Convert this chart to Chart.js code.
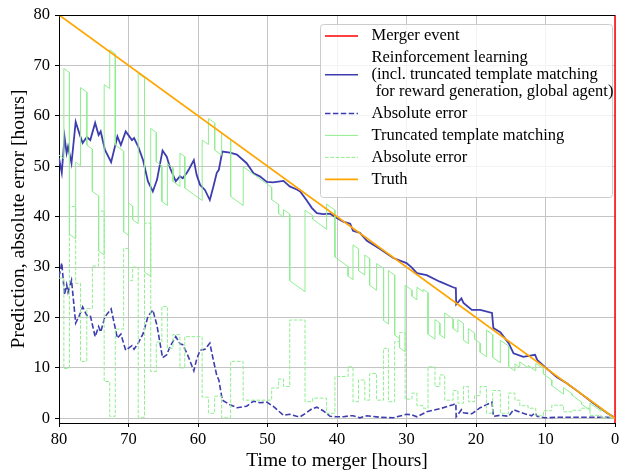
<!DOCTYPE html>
<html>
<head>
<meta charset="utf-8">
<script src="https://cdn.jsdelivr.net/npm/chart.js@4.4.1/dist/chart.umd.min.js"></script>
<style>
    html, body { margin: 0; padding: 0; background: #fff; }
</style>
</head>
<body>
<canvas id="mergerChart" width="619" height="473"></canvas>
<script>
// osy
const xTicks = [0, 10, 20, 30, 40, 50, 60, 70, 80];
const yTicks = [0, 10, 20, 30, 40, 50, 60, 70, 80];

// pravda a okamzik srazky
const truthTime = [80, 0];
const truthValue = [80, 0];
const mergerTime = 0;

// reinforcement learning - predikce a absolutni chyba
const rlTime = [80.0, 79.6, 79.2, 78.9, 78.7, 78.2, 77.6, 77.0, 76.6, 76.0,
    75.5, 74.8, 74.3, 74.0, 73.4, 72.5, 71.6, 71.1, 70.4, 69.5,
    69.2, 68.6, 67.9, 67.2, 66.5, 65.9, 65.1, 64.5, 64.0, 63.2,
    62.6, 62.2, 61.6, 61.3, 60.6, 60.2, 59.7, 59.0, 58.3, 57.8,
    57.3, 57.0, 56.5, 55.4, 54.4, 53.0, 52.0, 51.1, 50.1, 49.2,
    47.7, 46.8, 45.8, 45.3, 44.4, 43.6, 42.9, 42.0, 41.0, 40.1,
    39.1, 38.1, 37.7, 36.7, 35.7, 33.8, 31.9, 30.0, 29.3, 28.5,
    27.1, 25.2, 23.3, 22.9, 22.85, 22.1, 21.8, 20.6, 19.4, 17.7,
    17.5, 16.5, 15.3, 14.6, 13.2, 12.0, 11.5, 11.2, 10.1, 8.4,
    7.0, 5.0, 3.1, 1.2, 0.25];
const rlPred = [51.6, 48.7, 55.8, 52.6, 53.9, 50.6, 58.8, 56.2, 54.6, 55.8,
    55.2, 58.6, 56.2, 56.9, 53.3, 50.8, 55.9, 54.2, 56.9, 55.2,
    55.6, 53.9, 51.2, 47.0, 45.0, 47.3, 53.1, 51.9, 49.6, 47.0,
    48.0, 47.6, 48.7, 49.4, 51.2, 48.3, 46.3, 45.3, 43.3, 45.9,
    48.7, 49.3, 52.9, 52.7, 52.3, 50.6, 48.6, 48.0, 46.9, 46.8,
    47.1, 46.0, 45.4, 45.0, 43.3, 41.7, 40.7, 40.5, 40.6, 39.8,
    39.0, 38.6, 37.2, 36.8, 35.2, 33.6, 31.8, 30.8, 30.0, 28.8,
    28.4, 27.1, 26.0, 25.8, 22.6, 23.8, 22.9, 21.5, 21.5, 20.9,
    17.9, 17.1, 14.9, 12.9, 12.2, 12.5, 12.6, 11.6, 10.2, 8.2,
    7.0, 5.0, 3.0, 1.1, 0.3];
const rlError = [28.1, 30.8, 24.5, 26.5, 25.0, 27.4, 18.9, 20.6, 22.1, 20.4,
    20.4, 16.2, 18.2, 17.1, 20.1, 21.7, 15.9, 16.7, 13.5, 14.4,
    13.7, 14.9, 16.8, 20.2, 21.5, 18.4, 12.0, 12.6, 14.3, 16.2,
    14.8, 14.6, 12.9, 11.9, 9.4, 11.7, 13.5, 13.7, 14.9, 11.6,
    8.5, 7.6, 3.6, 2.7, 2.1, 2.4, 3.4, 3.1, 3.2, 2.4,
    0.6, 0.8, 0.4, 0.3, 1.1, 1.9, 2.2, 1.5, 0.4, 0.3,
    0.3, 0.5, 0.5, 0.1, 0.5, 0.2, 0.1, 0.8, 0.7, 0.3,
    1.3, 1.9, 2.7, 2.9, 0.3, 1.7, 1.1, 0.9, 2.1, 3.2,
    0.4, 0.6, 0.4, 1.7, 1.0, 0.5, 1.1, 0.4, 0.1, 0.2,
    0.2, 0.2, 0.2, 0.2, 0.1];

// truncated template matching - useky (zacatek, hodnota na zacatku, hodnota na konci, chyba)
const ttmStart = [80.0, 79.3, 78.5, 77.6, 76.9, 76.0, 75.2, 74.3, 73.5, 72.7,
    71.9, 70.7, 70.0, 69.4, 68.6, 67.7, 66.8, 66.0, 65.2, 64.4,
    63.6, 62.6, 61.9, 59.4, 58.5, 57.6, 56.6, 55.3, 53.5, 49.4,
    48.4, 47.7, 46.8, 44.6, 43.5, 41.5, 40.3, 38.4, 37.7, 36.9,
    36.0, 35.3, 34.3, 33.3, 32.6, 31.7, 31.0, 30.2, 29.2, 28.5,
    27.6, 26.9, 25.9, 25.2, 24.5, 23.3, 22.6, 21.8, 21.1, 20.2,
    19.4, 18.5, 17.6, 16.5, 15.3, 14.4, 13.7, 12.5, 11.4, 10.3,
    9.1, 7.4, 6.2, 4.8, 3.6, 2.0];
const ttmLastTime = 0.2;
const ttmStartVal = [52.2, 69.4, 36.5, 50.8, 65.6, 54.2, 45.0, 33.2, 66.2, 73.1,
    54.2, 37.0, 42.7, 39.4, 68.4, 29.0, 57.5, 50.9, 43.0, 50.5,
    47.0, 52.6, 45.7, 55.2, 59.5, 53.2, 56.6, 44.0, 49.9, 43.4,
    40.6, 41.4, 27.3, 41.3, 39.5, 42.5, 32.0, 28.2, 34.4, 29.3,
    32.4, 26.4, 30.7, 19.4, 29.3, 16.5, 14.0, 26.4, 24.2, 26.0,
    25.6, 16.7, 19.6, 16.6, 20.9, 17.8, 19.6, 15.5, 17.8, 15.7,
    13.1, 17.5, 12.1, 15.5, 10.3, 10.8, 11.2, 10.5, 10.9, 8.8,
    6.5, 6.1, 4.6, 2.8, 3.0, 1.9];
const ttmEndVal = [51.5, 68.6, 35.6, 50.1, 64.7, 53.4, 44.1, 32.4, 65.4, 72.3,
    53.0, 36.3, 42.1, 38.6, 67.5, 28.1, 56.7, 50.1, 42.2, 49.7,
    46.0, 51.9, 43.2, 54.3, 58.6, 52.2, 55.3, 42.2, 45.8, 42.4,
    39.9, 40.5, 25.1, 40.2, 37.5, 41.3, 30.1, 27.5, 33.6, 28.4,
    31.7, 25.4, 29.7, 18.7, 28.4, 15.8, 13.2, 25.4, 23.5, 25.1,
    24.9, 15.7, 18.9, 15.9, 19.7, 17.1, 18.8, 14.8, 16.9, 14.9,
    12.2, 16.6, 11.0, 14.3, 9.4, 10.1, 10.0, 9.4, 9.8, 7.6,
    4.8, 4.9, 3.2, 1.6, 1.4, 0.1];
const ttmError = [27.8, 9.9, 42.0, 26.8, 11.3, 21.8, 30.2, 41.1, 7.3, 0.4,
    17.7, 33.7, 27.3, 30.0, 0.2, 38.7, 9.3, 15.1, 22.2, 13.9,
    16.6, 10.0, 16.2, 4.2, 1.0, 4.4, 0.1, 11.3, 3.6, 6.0,
    7.8, 6.3, 19.5, 3.3, 4.0, 1.0, 8.3, 10.2, 3.3, 7.6,
    3.6, 8.9, 3.6, 13.9, 3.3, 15.2, 17.0, 3.8, 5.0, 2.5,
    2.0, 10.2, 6.3, 8.6, 3.6, 5.5, 3.0, 6.3, 3.3, 4.5,
    6.3, 1.0, 5.5, 1.0, 5.0, 3.6, 2.5, 2.0, 0.5, 1.5,
    2.6, 1.3, 1.6, 2.0, 0.6, 0.1];

const yMin = -0.93;
const yMax = 80;

const blue = '#3d3db0';
const green = '#90ee90';
const orange = '#ffa500';
const red = '#ff0000';
const serif = '"Liberation Serif", "Times New Roman", serif';
const tickFont = { family: serif, size: 16.5 };
const titleFont = { family: serif, size: 19.5 };

// body pro Chart.js
const rlPredPoints = rlTime.map((t, i) => ({ x: t, y: rlPred[i] }));
const rlErrorPoints = rlTime.map((t, i) => ({ x: t, y: rlError[i] }));
const ttmPredPoints = [];
ttmStart.forEach((t, i) => {
    const next = i + 1 < ttmStart.length ? ttmStart[i + 1] : ttmLastTime;
    ttmPredPoints.push({ x: t, y: ttmStartVal[i] });
    ttmPredPoints.push({ x: next, y: ttmEndVal[i] });
});
const ttmErrorPoints = ttmStart.map((t, i) => ({ x: t, y: ttmError[i] }));
ttmErrorPoints.push({ x: ttmLastTime, y: ttmError[ttmError.length - 1] });
const truthPoints = truthTime.map((t, i) => ({ x: t, y: truthValue[i] }));
const mergerPoints = [{ x: mergerTime, y: yMin }, { x: mergerTime, y: yMax }];

// legenda v ramecku (viceradkovy popisek)
const legendEntries = [
    { lines: ['Merger event'], color: red, width: 1.5, dash: [] },
    { lines: ['Reinforcement learning', '(incl. truncated template matching', ' for reward generation, global agent)'], color: blue, width: 1.5, dash: [] },
    { lines: ['Absolute error'], color: blue, width: 1.5, dash: [5.5, 2.4] },
    { lines: ['Truncated template matching'], color: green, width: 1, dash: [] },
    { lines: ['Absolute error'], color: green, width: 1, dash: [3.7, 1.6] },
    { lines: ['Truth'], color: orange, width: 1.8, dash: [] }
];

const boxLegend = {
    id: 'boxLegend',
    afterDraw(chart) {
        const ctx = chart.ctx;
        const area = chart.chartArea;
        ctx.save();
        // horni ramecek
        ctx.strokeStyle = '#000';
        ctx.lineWidth = 1;
        ctx.beginPath();
        ctx.moveTo(area.left, Math.round(area.top) + 0.5);
        ctx.lineTo(area.right, Math.round(area.top) + 0.5);
        ctx.stroke();

        const bx = 320.5, by = 24.5, bw = 292, bh = 173, r = 3;
        ctx.beginPath();
        ctx.moveTo(bx + r, by);
        ctx.arcTo(bx + bw, by, bx + bw, by + bh, r);
        ctx.arcTo(bx + bw, by + bh, bx, by + bh, r);
        ctx.arcTo(bx, by + bh, bx, by, r);
        ctx.arcTo(bx, by, bx + bw, by, r);
        ctx.closePath();
        ctx.fillStyle = 'rgba(255,255,255,0.8)';
        ctx.fill();
        ctx.strokeStyle = '#cccccc';
        ctx.stroke();

        ctx.font = '16.5px ' + serif;
        ctx.textBaseline = 'middle';
        ctx.textAlign = 'left';
        const lineStep = 16.7;
        const gap = 22;
        let y = 36;
        legendEntries.forEach(e => {
            const mid = y + (e.lines.length - 1) * lineStep / 2;
            ctx.strokeStyle = e.color;
            ctx.lineWidth = e.width;
            ctx.setLineDash(e.dash);
            ctx.beginPath();
            ctx.moveTo(325, mid);
            ctx.lineTo(358, mid);
            ctx.stroke();
            ctx.setLineDash([]);
            ctx.fillStyle = '#000';
            e.lines.forEach((txt, k) => {
                ctx.fillText(txt, 371.5, y + k * lineStep);
            });
            y += (e.lines.length - 1) * lineStep + gap;
        });
        ctx.restore();
    }
};

const ctx = document.getElementById('mergerChart').getContext('2d');
new Chart(ctx, {
    type: 'line',
    data: {
        datasets: [
            { label: 'Truth', data: truthPoints, borderColor: orange, borderWidth: 1.8, order: 0 },
            { label: 'Absolute error', data: ttmErrorPoints, borderColor: green, borderWidth: 1, borderDash: [3.7, 1.6], stepped: true, order: 1 },
            { label: 'Truncated template matching', data: ttmPredPoints, borderColor: green, borderWidth: 1, order: 2 },
            { label: 'Absolute error', data: rlErrorPoints, borderColor: blue, borderWidth: 1.6, borderDash: [5.5, 2.4], order: 3 },
            { label: 'Reinforcement learning', data: rlPredPoints, borderColor: blue, borderWidth: 1.8, order: 4 },
            { label: 'Merger event', data: mergerPoints, borderColor: red, borderWidth: 1.5, order: 5, clip: false }
        ]
    },
    options: {
        responsive: false,
        animation: false,
        devicePixelRatio: 1,
        layout: { padding: { top: 15, right: 4, left: 0, bottom: 0 } },
        elements: {
            point: { radius: 0 },
            line: { tension: 0, fill: false }
        },
        plugins: {
            legend: { display: false },
            tooltip: { enabled: false }
        },
        scales: {
            x: {
                type: 'linear',
                reverse: true,
                min: 0,
                max: 80,
                afterBuildTicks: s => { s.ticks = xTicks.map(v => ({ value: v })); },
                afterFit: s => { s.height = 50; },
                grid: { color: '#c4c4c4', lineWidth: 1, tickColor: '#000', tickLength: 4 },
                border: { display: true, color: '#000', width: 1 },
                ticks: { color: '#000', font: tickFont, padding: 3, maxRotation: 0, autoSkip: false },
                title: { display: true, text: 'Time to merger [hours]', color: '#000', font: titleFont, padding: { top: 0, bottom: 0 } }
            },
            y: {
                type: 'linear',
                min: yMin,
                max: yMax,
                afterBuildTicks: s => { s.ticks = yTicks.map(v => ({ value: v })); },
                afterFit: s => { s.width = 59; },
                grid: { color: '#c4c4c4', lineWidth: 1, tickColor: '#000', tickLength: 4 },
                border: { display: true, color: '#000', width: 1 },
                ticks: { color: '#000', font: tickFont, padding: 5 },
                title: { display: true, text: 'Prediction, absolute error [hours]', color: '#000', font: titleFont, padding: { top: 7, bottom: 0 } }
            }
        }
    },
    plugins: [boxLegend]
});
</script>
</body>
</html>
